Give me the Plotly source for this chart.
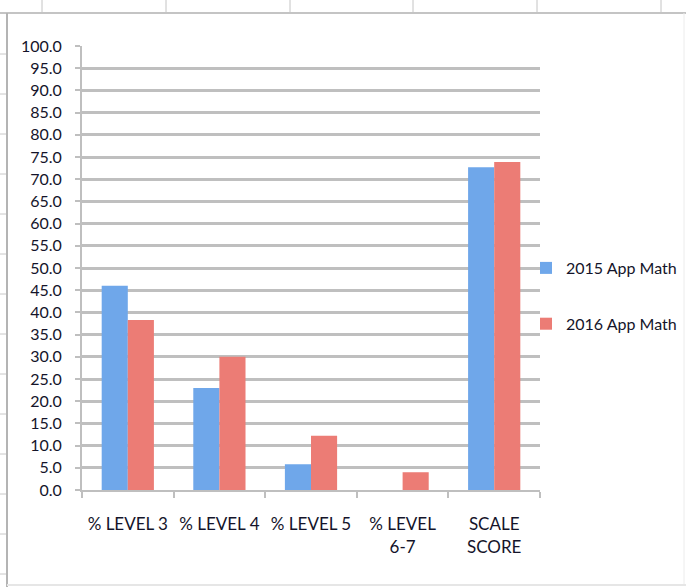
import plotly.graph_objects as go

# Data
categories = ["% LEVEL 3", "% LEVEL 4", "% LEVEL 5", "% LEVEL<br>6-7", "SCALE<br>SCORE"]
series_names = ["2015 App Math", "2016 App Math"]
math_2015 = [46.0, 23.0, 5.8, 0.0, 72.7]
math_2016 = [38.3, 30.0, 12.2, 4.0, 73.9]
y_ticks = [i * 5 for i in range(21)]

W, H = 686, 587
ML, MR, MT, MB = 82, 146, 46, 97
PW, PH = W - ML - MR, H - MT - MB

FONT = "Lato, Roboto, sans-serif"
TEXT = "#14142a"
GRID = "#bfbfbf"


def px_x(p):
    return (p - ML) / PW


def px_y(p):
    return (H - MB - p) / PH


fig = go.Figure()
fig.add_trace(go.Bar(x=categories, y=math_2015, name=series_names[0],
                     marker=dict(color="#6fa7ea", line=dict(width=0)),
                     legendgroup="a"))
fig.add_trace(go.Bar(x=categories, y=math_2016, name=series_names[1],
                     marker=dict(color="#ec7c75", line=dict(width=0)),
                     legendgroup="b"))

# Spreadsheet frame around the chart
shapes = []
line_c = "#c4c4c4"
shapes.append(dict(type="line", xref="paper", yref="paper",
                   x0=px_x(0), x1=px_x(W), y0=px_y(13), y1=px_y(13),
                   line=dict(color=line_c, width=2)))
for cx in [42, 166, 290, 413, 537, 661]:
    shapes.append(dict(type="line", xref="paper", yref="paper",
                       x0=px_x(cx), x1=px_x(cx), y0=px_y(0), y1=px_y(13),
                       line=dict(color=line_c, width=1)))
shapes.append(dict(type="line", xref="paper", yref="paper",
                   x0=px_x(7), x1=px_x(7), y0=px_y(13), y1=px_y(H),
                   line=dict(color="#b4b4b4", width=2)))
shapes.append(dict(type="line", xref="paper", yref="paper",
                   x0=px_x(684), x1=px_x(684), y0=px_y(13), y1=px_y(585),
                   line=dict(color="#ececec", width=1)))
shapes.append(dict(type="line", xref="paper", yref="paper",
                   x0=px_x(7), x1=px_x(W), y0=px_y(585), y1=px_y(585),
                   line=dict(color="#e6e6e6", width=2)))
for ry in range(54, 590, 40):
    shapes.append(dict(type="line", xref="paper", yref="paper",
                       x0=px_x(0), x1=px_x(6), y0=px_y(ry), y1=px_y(ry),
                       line=dict(color="#c8c8c8", width=1)))

fig.update_layout(
    width=W, height=H,
    margin=dict(l=ML, r=MR, t=MT, b=MB, pad=0, autoexpand=False),
    paper_bgcolor="white", plot_bgcolor="white",
    barmode="group", bargap=0.43, bargroupgap=0,
    font=dict(family=FONT, color=TEXT, size=16),
    showlegend=True,
    legend=dict(x=px_x(526), y=px_y(296), xanchor="left", yanchor="middle",
                font=dict(family=FONT, size=16, color=TEXT),
                tracegroupgap=32, itemwidth=30, bgcolor="rgba(0,0,0,0)"),
    shapes=shapes,
)
fig.update_xaxes(
    showline=True, linecolor=GRID, linewidth=2,
    ticks="outside", tickson="boundaries", ticklen=6, tickcolor=GRID, tickwidth=2,
    tickfont=dict(family=FONT, size=17, color=TEXT), tickangle=0,
    ticklabelstandoff=18,
    showgrid=False,
)
fig.update_yaxes(
    range=[0, 100], tickvals=y_ticks, tickformat=".1f",
    showline=True, linecolor=GRID, linewidth=2,
    ticks="outside", ticklen=5, tickcolor=GRID, tickwidth=2,
    showgrid=True, gridcolor=GRID, gridwidth=2.5,
    tickfont=dict(family=FONT, size=16, color=TEXT),
    zeroline=False, ticklabelstandoff=10,
)

fig.write_html("out.html")
